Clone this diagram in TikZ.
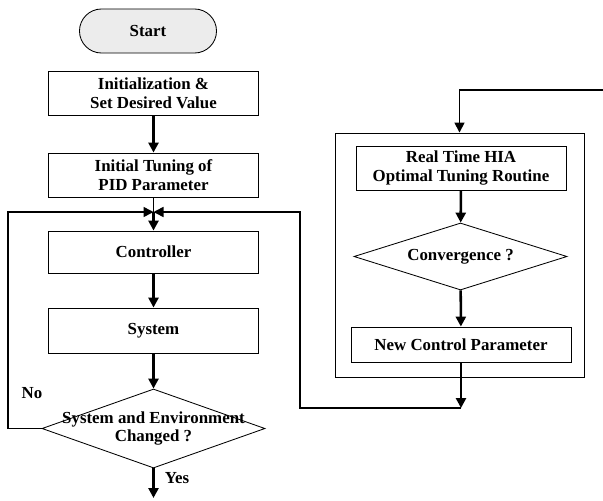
\documentclass[tikz,border=0pt]{standalone}
\usepackage{fontspec}
\setmainfont{Liberation Serif}
\usetikzlibrary{arrows.meta,shapes.geometric}

\begin{document}
\begin{tikzpicture}[x=0.025cm,y=-0.025cm,
	font=\bfseries\fontsize{12}{13.5}\selectfont,
	box/.style={draw,line width=0.6pt,minimum width=5.25cm,minimum height=1.1cm,align=center,inner sep=0pt},
	dec/.style={draw,diamond,line width=0.6pt,inner sep=0pt},
	flow/.style={line width=1.8pt,-{Triangle[length=2.5mm,width=2.5mm]}},
	loop/.style={line width=1.1pt,-{Triangle[length=2.5mm,width=2.5mm]}},
	wire/.style={line width=1.1pt}]
	\useasboundingbox (0,0) rectangle (603,500);
	\node [draw, fill=gray!15, rounded corners=0.55cm, minimum width=3.425cm, minimum height=1.1cm, line width=0.6pt] (start) at (148,31) {Start};
	\node [box] (init) at (153.5,93) {Initialization \&\\Set Desired Value};
	\node [box] (tune) at (153.5,175) {Initial Tuning of\\PID Parameter};
	\coordinate (j) at (153.5,212);
	\node [box, minimum height=1.05cm] (ctrl) at (153.5,252) {Controller};
	\node [box, minimum height=1.125cm] (sys) at (153.5,330.5) {System};
	\node [dec, minimum width=5.575cm, minimum height=1.975cm] (chg) at (153.5,428.5) {};
	\node [align=center] (chgtext) at (chg) {System and Environment\\Changed ?};
	\coordinate (done) at (153.5,498);
	\coordinate (lx) at (8,428.5);
	\node (no) at (32,393) {No};
	\node (yes) at (177,478) {Yes};
	\node [draw, line width=0.6pt, minimum width=6.225cm, minimum height=6.1cm] (outer) at (459.5,255) {};
	\node [box] (hia) at (461,168) {Real Time HIA\\Optimal Tuning Routine};
	\node [dec, minimum width=5.325cm, minimum height=1.675cm] (conv) at (460.5,256.5) {};
	\node (convtext) at (conv) {Convergence ?};
	\node [box, minimum width=5.5cm, minimum height=0.875cm] (ncp) at (461,344.5) {New Control Parameter};
	\coordinate (in) at (603,90);
	\coordinate (rx) at (300,408);
	\draw [flow] (init) -- (tune);
	\draw [wire] (tune) -- (j);
	\draw [flow] (j) -- (ctrl);
	\draw [flow] (ctrl) -- (sys);
	\draw [flow] (sys) -- (chg);
	\draw [flow] (chg) -- (done);
	\draw [loop] (chg.west) -- (lx) |- (j);
	\draw [loop] (in) -| (outer.north);
	\draw [flow] (hia) -- (conv);
	\draw [flow] (conv) -- (ncp);
	\draw [flow] (ncp) -- (ncp |- rx);
	\draw [loop] (ncp |- rx) -- (rx) |- (j);
\end{tikzpicture}
\end{document}
